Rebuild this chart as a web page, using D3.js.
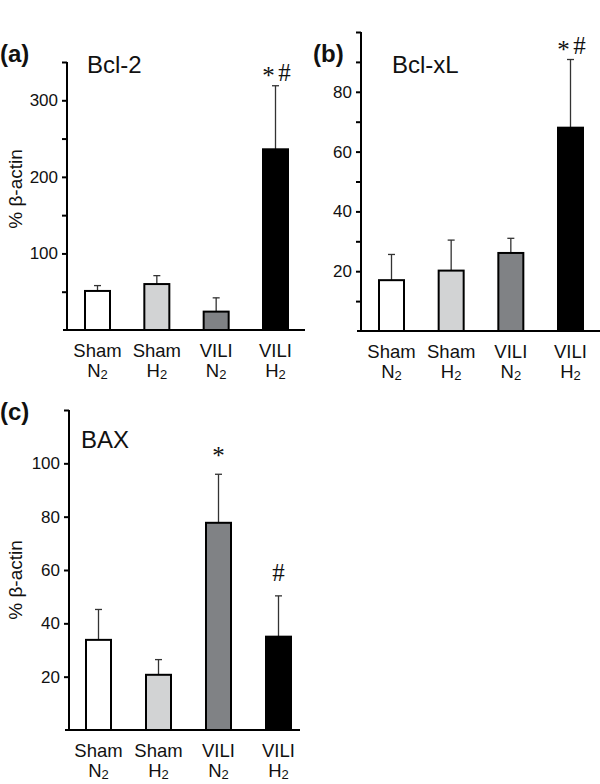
<!DOCTYPE html>
<html><head><meta charset="utf-8">
<script src="https://cdn.jsdelivr.net/npm/d3@7/dist/d3.min.js"></script>
<style>body{margin:0;background:#fff}svg{display:block}text{font-family:"Liberation Sans",Arial,sans-serif;fill:#111}</style>
</head><body>
<script>
// ---- data ----
const groups = ["Sham N2", "Sham H2", "VILI N2", "VILI H2"];
const groupLine1 = ["Sham", "Sham", "VILI", "VILI"];
const groupGas = ["N", "H", "N", "H"];
const groupColors = ["#ffffff", "#d2d3d4", "#808285", "#000000"];

const bcl2Mean = [51, 60, 24, 236];
const bcl2Err  = [7, 11, 18, 83];
const bcl2Ticks = [50, 100, 150, 200, 250, 300, 350];
const bcl2TickLabels = [100, 200, 300];
const bcl2Marks = ["", "", "", "*#"];

const bclxlMean = [17, 20.2, 26.1, 68];
const bclxlErr  = [8.6, 10.2, 4.9, 22.8];
const bclxlTicks = [10, 20, 30, 40, 50, 60, 70, 80, 90, 100];
const bclxlTickLabels = [20, 40, 60, 80];
const bclxlMarks = ["", "", "", "*#"];

const baxMean = [33.8, 20.7, 77.7, 35];
const baxErr  = [11.4, 5.7, 18.2, 15.3];
const baxTicks = [20, 40, 60, 80, 100, 120];
const baxTickLabels = [20, 40, 60, 80, 100];
const baxMarks = ["", "", "*", "#"];

const svg = d3.select("body").append("svg").attr("width", 600).attr("height", 784);

function panel(cfg) {
  const g = svg.append("g");
  const y = d3.scaleLinear().domain([0, cfg.max]).range([cfg.base, cfg.top]);
  const x = d3.scalePoint().domain(groups).range(cfg.xr);
  const bw = 25;

  g.append("text").attr("x", cfg.letterX).attr("y", cfg.letterY)
    .style("font-weight", "bold").style("font-size", "24px").text(cfg.letter);
  g.append("text").attr("x", cfg.titleX).attr("y", cfg.titleY)
    .style("font-size", "24px").text(cfg.title);

  if (cfg.ylabel) {
    g.append("text").attr("transform", `translate(${cfg.ylabX},${cfg.ylabY}) rotate(-90)`)
      .attr("text-anchor", "middle").style("font-size", "19px").text("% β-actin");
  }

  const axis = d3.axisLeft(y).tickValues(cfg.ticks).tickSize(5).tickSizeOuter(0)
    .tickFormat(d => cfg.labels.includes(d) ? d : "");
  const ag = g.append("g").attr("transform", `translate(${cfg.axisX},0)`).call(axis);
  ag.select(".domain").attr("stroke", "#000").attr("stroke-width", 2)
    .attr("d", `M0,${cfg.top}V${cfg.base}`);
  ag.selectAll(".tick line").attr("stroke", "#000").attr("stroke-width", 2);
  ag.selectAll(".tick text").attr("x", -9).style("font-size", "17px")
    .style("font-family", '"Liberation Sans",Arial,sans-serif').attr("fill", "#111");

  const eg = g.append("g").attr("stroke", "#333").attr("stroke-width", 1.3);
  groups.forEach((k, i) => {
    const cx = x(k), t = y(cfg.mean[i]), e = y(cfg.mean[i] + cfg.err[i]);
    eg.append("line").attr("x1", cx).attr("x2", cx).attr("y1", t).attr("y2", e);
    eg.append("line").attr("x1", cx - 3.5).attr("x2", cx + 3.5).attr("y1", e).attr("y2", e);
  });

  g.selectAll("rect.bar").data(cfg.mean).join("rect").attr("class", "bar")
    .attr("x", (d, i) => x(groups[i]) - bw / 2).attr("width", bw)
    .attr("y", d => y(d)).attr("height", d => cfg.base - y(d))
    .attr("fill", (d, i) => groupColors[i]).attr("stroke", "#000").attr("stroke-width", 2);

  g.append("line").attr("x1", cfg.baseX0).attr("x2", cfg.baseX1)
    .attr("y1", cfg.base).attr("y2", cfg.base).attr("stroke", "#000").attr("stroke-width", 2.2);

  groups.forEach((k, i) => {
    const cx = x(k);
    g.append("text").attr("x", cx).attr("y", cfg.base + 27).attr("text-anchor", "middle")
      .style("font-size", "18.5px").text(groupLine1[i]);
    const t2 = g.append("text").attr("x", cx).attr("y", cfg.base + 47).attr("text-anchor", "middle")
      .style("font-size", "18.5px");
    t2.append("tspan").text(groupGas[i]);
    t2.append("tspan").attr("dy", 2).style("font-size", "13px").text("2");
  });

  cfg.marks.forEach((m, i) => {
    if (!m) return;
    const cx = x(groups[i]);
    const e = y(cfg.mean[i] + cfg.err[i]);
    const hasStar = m.includes("*"), hasHash = m.includes("#");
    const sx = hasHash ? cx - 7 : cx;
    const hx = hasStar ? cx + 9 : cx;
    if (hasStar) g.append("text").attr("x", sx).attr("y", e - cfg.starGap).attr("text-anchor", "middle")
      .style("font-family", '"Liberation Serif","Times New Roman",serif').style("font-size", "25px").text("*");
    if (hasHash) g.append("text").attr("x", hx).attr("y", e - cfg.hashGap).attr("text-anchor", "middle")
      .style("font-family", '"Liberation Serif","Times New Roman",serif').style("font-size", "25px").text("#");
  });
}

panel({letter: "(a)", letterX: 0, letterY: 62, title: "Bcl-2", titleX: 87, titleY: 73,
  ylabel: true, ylabX: 22, ylabY: 189,
  max: 350, base: 330, top: 62, axisX: 67, xr: [97.5, 275.5], baseX0: 63, baseX1: 305,
  ticks: bcl2Ticks, labels: bcl2TickLabels, mean: bcl2Mean, err: bcl2Err, marks: bcl2Marks,
  starGap: 2, hashGap: 5});

panel({letter: "(b)", letterX: 313, letterY: 62, title: "Bcl-xL", titleX: 392, titleY: 73,
  ylabel: false,
  max: 100, base: 331, top: 32, axisX: 361, xr: [391.5, 570.5], baseX0: 357, baseX1: 600,
  ticks: bclxlTicks, labels: bclxlTickLabels, mean: bclxlMean, err: bclxlErr, marks: bclxlMarks,
  starGap: 2, hashGap: 6});

panel({letter: "(c)", letterX: 0, letterY: 420, title: "BAX", titleX: 81, titleY: 448,
  ylabel: true, ylabX: 22, ylabY: 580,
  max: 120, base: 730, top: 410, axisX: 69, xr: [98.5, 278.5], baseX0: 65, baseX1: 300,
  ticks: baxTicks, labels: baxTickLabels, mean: baxMean, err: baxErr, marks: baxMarks,
  starGap: 10, hashGap: 15});
</script>
</body></html>
